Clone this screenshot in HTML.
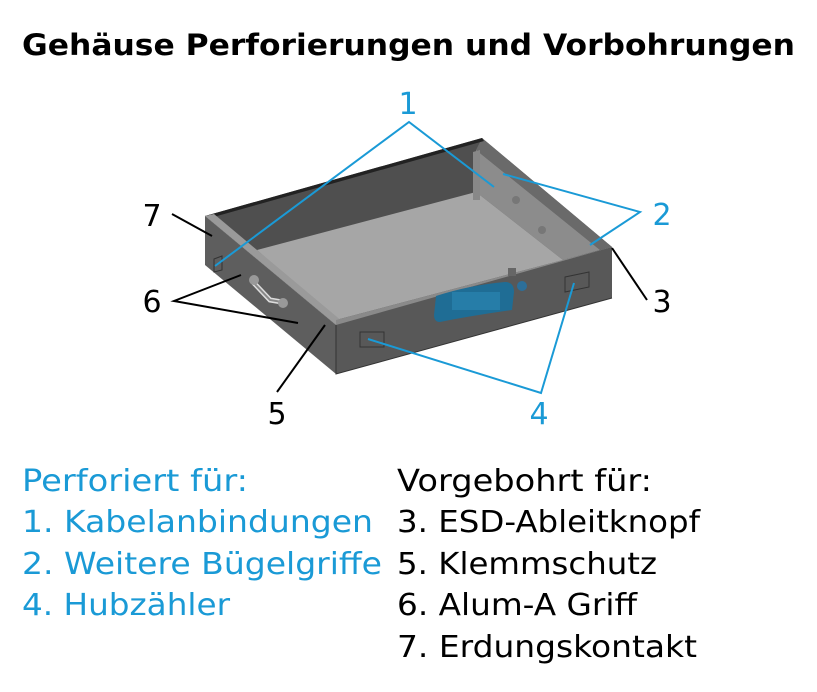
<!DOCTYPE html>
<html><head><meta charset="utf-8"><style>
body{margin:0;width:817px;height:692px;background:#fff;overflow:hidden}
svg{position:absolute;left:0;top:0}
</style></head><body>
<svg width="817" height="692" viewBox="0 0 817 692">
<text x="22" y="55" font-family="DejaVu Sans" font-weight="bold" font-size="29" textLength="773" lengthAdjust="spacingAndGlyphs">Gehäuse Perforierungen und Vorbohrungen</text>
<!-- box -->
<polygon points="205,216 482,138 612,247 336,325" fill="#4f4f4f"/>
<polygon points="482,138 612,247 600,250 476,150" fill="#6a6a6a"/>
<polygon points="476,150 600,250 563,260 476,192" fill="#8c8c8c"/>
<polygon points="257,250 476,192 563,260 336,320" fill="#a6a6a6"/>
<polygon points="205,216 482,138 484,141 210,218" fill="#222"/>
<polygon points="205,216 214,214 343,322 336,325" fill="#9a9a9a"/>
<polygon points="336,320 612,247 612,252 336,327" fill="#8a8a8a"/>
<polygon points="205,216 336,325 336,374 205,265" fill="#5e5e5e"/>
<polygon points="336,325 612,247 612,298 336,374" fill="#585858"/>
<polyline points="336,325 336,374 612,298" fill="none" stroke="#333" stroke-width="1"/>
<rect x="360" y="332" width="24" height="15" fill="none" stroke="#333"/>
<polygon points="565,277 589,272 589,287 565,292" fill="none" stroke="#333"/>
<polygon points="214,259 222,256 222,270 214,272" fill="none" stroke="#333"/>
<path d="M436,296 Q470,285 505,282 Q514,282 514,292 L512,310 Q470,316 440,322 Q434,322 434,315 Z" fill="#1f6d95"/>
<rect x="452" y="292" width="48" height="18" fill="#2a84b0" opacity=".7"/>
<circle cx="522" cy="286" r="5" fill="#2c6f9a"/>
<rect x="508" y="268" width="8" height="8" fill="#666"/>
<path d="M252,281 L270,300 L282,302" fill="none" stroke="#ddd" stroke-width="5"/>
<path d="M252,281 L270,300 L282,302" fill="none" stroke="#888" stroke-width="2"/>
<circle cx="254" cy="280" r="5" fill="#999"/><circle cx="283" cy="303" r="5" fill="#999"/>
<polygon points="473,152 480,150 480,200 473,200" fill="#888"/>
<circle cx="516" cy="200" r="4" fill="#777"/><circle cx="542" cy="230" r="4" fill="#777"/>
<!-- leaders -->
<g stroke="#1a9ad6" stroke-width="2" fill="none">
<polyline points="215,266 409,122 494,187"/>
<polyline points="503,174 640,212 590,245"/>
<polyline points="368,339 541,393 574,283"/>
</g>
<g stroke="#000" stroke-width="2" fill="none">
<line x1="647" y1="300" x2="612" y2="248"/>
<line x1="277" y1="392" x2="325" y2="325"/>
<polyline points="241,275 174,301 298,323"/>
<line x1="172" y1="214" x2="212" y2="236"/>
</g>
<g font-family="DejaVu Sans" font-size="30" text-anchor="middle">
<text x="408" y="114" fill="#1a9ad6">1</text>
<text x="662" y="225" fill="#1a9ad6">2</text>
<text x="662" y="312">3</text>
<text x="539" y="424" fill="#1a9ad6">4</text>
<text x="277" y="424">5</text>
<text x="152" y="312">6</text>
<text x="152" y="226">7</text>
</g>
<g font-family="DejaVu Sans" font-size="30" lengthAdjust="spacingAndGlyphs">
<text x="22" y="491" fill="#1a9ad6" textLength="226" lengthAdjust="spacingAndGlyphs">Perforiert für:</text>
<text x="22" y="532" fill="#1a9ad6" textLength="351" lengthAdjust="spacingAndGlyphs">1. Kabelanbindungen</text>
<text x="22" y="574" fill="#1a9ad6" textLength="360" lengthAdjust="spacingAndGlyphs">2. Weitere Bügelgriffe</text>
<text x="22" y="615" fill="#1a9ad6" textLength="208" lengthAdjust="spacingAndGlyphs">4. Hubzähler</text>
<text x="397" y="491" textLength="255" lengthAdjust="spacingAndGlyphs">Vorgebohrt für:</text>
<text x="397" y="532" textLength="303" lengthAdjust="spacingAndGlyphs">3. ESD-Ableitknopf</text>
<text x="397" y="574" textLength="260" lengthAdjust="spacingAndGlyphs">5. Klemmschutz</text>
<text x="397" y="615" textLength="240" lengthAdjust="spacingAndGlyphs">6. Alum-A Griff</text>
<text x="397" y="657" textLength="300" lengthAdjust="spacingAndGlyphs">7. Erdungskontakt</text>
</g>
</svg>
</body></html>
